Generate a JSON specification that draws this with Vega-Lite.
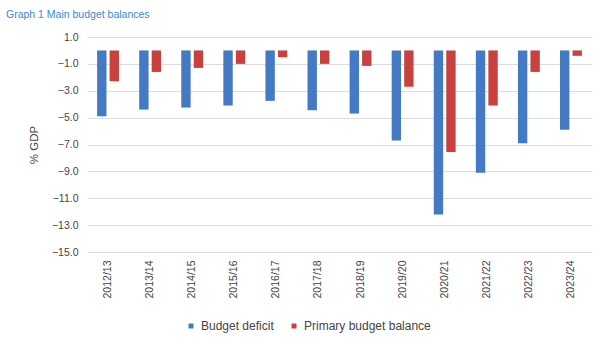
{
  "$schema": "https://vega.github.io/schema/vega-lite/v6.json",
  "width": 505,
  "height": 215,
  "autosize": "none",
  "padding": {"left": 87, "top": 37, "right": 11, "bottom": 92},
  "background": "white",
  "config": {
    "font": "Liberation Sans",
    "view": {"stroke": null}
  },
  "title": {
    "text": "Graph 1  Main budget balances",
    "anchor": "start",
    "frame": "group",
    "dx": -81,
    "offset": 12,
    "fontSize": 10.5,
    "fontWeight": "normal",
    "color": "#3A8AD0",
    "font": "Liberation Sans"
  },
  "data": {
    "values": [
      {"year": "2012/13", "series": "Budget deficit", "value": -4.9},
      {"year": "2012/13", "series": "Primary budget balance", "value": -2.3},
      {"year": "2013/14", "series": "Budget deficit", "value": -4.4},
      {"year": "2013/14", "series": "Primary budget balance", "value": -1.6},
      {"year": "2014/15", "series": "Budget deficit", "value": -4.25},
      {"year": "2014/15", "series": "Primary budget balance", "value": -1.3},
      {"year": "2015/16", "series": "Budget deficit", "value": -4.1},
      {"year": "2015/16", "series": "Primary budget balance", "value": -1.0},
      {"year": "2016/17", "series": "Budget deficit", "value": -3.75},
      {"year": "2016/17", "series": "Primary budget balance", "value": -0.5},
      {"year": "2017/18", "series": "Budget deficit", "value": -4.45},
      {"year": "2017/18", "series": "Primary budget balance", "value": -1.0},
      {"year": "2018/19", "series": "Budget deficit", "value": -4.7},
      {"year": "2018/19", "series": "Primary budget balance", "value": -1.15},
      {"year": "2019/20", "series": "Budget deficit", "value": -6.7},
      {"year": "2019/20", "series": "Primary budget balance", "value": -2.7},
      {"year": "2020/21", "series": "Budget deficit", "value": -12.2},
      {"year": "2020/21", "series": "Primary budget balance", "value": -7.55},
      {"year": "2021/22", "series": "Budget deficit", "value": -9.1},
      {"year": "2021/22", "series": "Primary budget balance", "value": -4.1},
      {"year": "2022/23", "series": "Budget deficit", "value": -6.9},
      {"year": "2022/23", "series": "Primary budget balance", "value": -1.6},
      {"year": "2023/24", "series": "Budget deficit", "value": -5.9},
      {"year": "2023/24", "series": "Primary budget balance", "value": -0.4}
    ]
  },
  "mark": {"type": "bar"},
  "encoding": {
    "x": {
      "field": "year",
      "type": "nominal",
      "sort": null,
      "scale": {"paddingInner": 0.48, "paddingOuter": 0.24},
      "axis": {
        "title": null,
        "labelAngle": -90,
        "labelFontSize": 10.5,
        "labelColor": "#444",
        "labelPadding": 8,
        "ticks": false,
        "domain": false,
        "grid": false
      }
    },
    "xOffset": {
      "field": "series",
      "type": "nominal",
      "scale": {"paddingInner": 0.25, "paddingOuter": 0}
    },
    "y": {
      "field": "value",
      "type": "quantitative",
      "scale": {"domain": [-15, 1], "nice": false, "zero": false},
      "axis": {
        "title": "% GDP",
        "titleFontSize": 11.5,
        "titleFontWeight": "normal",
        "titleColor": "#444",
        "titlePadding": 12,
        "values": [1, -1, -3, -5, -7, -9, -11, -13, -15],
        "format": ".1f",
        "labelFontSize": 10.5,
        "labelColor": "#444",
        "labelPadding": 9,
        "ticks": false,
        "domain": false,
        "grid": true,
        "gridColor": "#dcdcdc",
        "gridWidth": 1
      }
    },
    "y2": {"datum": 0},
    "color": {
      "field": "series",
      "type": "nominal",
      "scale": {
        "domain": ["Budget deficit", "Primary budget balance"],
        "range": ["#4479C4", "#C8413F"]
      },
      "legend": {
        "title": null,
        "orient": "none",
        "direction": "horizontal",
        "legendX": 98,
        "legendY": 283,
        "symbolType": "square",
        "symbolSize": 25,
        "labelFontSize": 12,
        "labelColor": "#444",
        "columnPadding": 14,
        "labelOffset": 4
      }
    }
  }
}
